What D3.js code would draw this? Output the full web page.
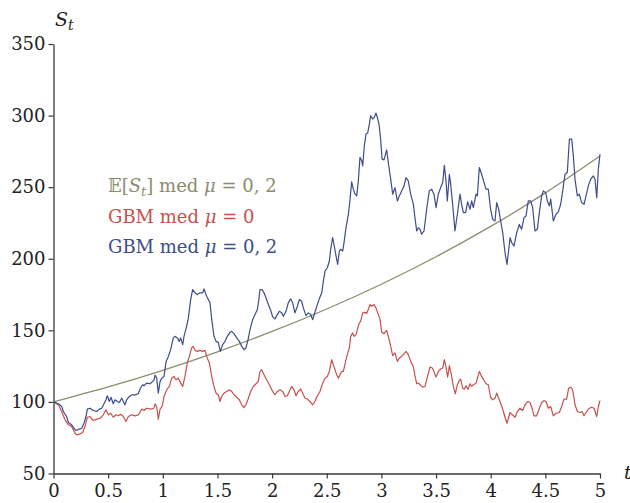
<!DOCTYPE html>
<html>
<head>
<meta charset="utf-8">
<script src="https://cdn.jsdelivr.net/npm/d3@7"></script>
<style>
  html, body { margin: 0; padding: 0; background: #fff; }
  svg { display: block; }
</style>
</head>
<body>
<svg id="chart" width="630" height="503"></svg>
<script>
// Two simulated GBM paths (mu = 0 and mu = 0.2) and the expected value curve.
const xTicks = [0, 0.5, 1, 1.5, 2, 2.5, 3, 3.5, 4, 4.5, 5];
const yTicks = [50, 100, 150, 200, 250, 300, 350];

// Expected value E[S_t] sampled every 0.5 time units
const meanT = [0, 0.5, 1, 1.5, 2, 2.5, 3, 3.5, 4, 4.5, 5];
const meanS = [100, 110.5, 122.1, 135, 149.2, 164.9, 182.2, 201.4, 222.6, 246, 271.8];

// GBM path, mu = 0
const redT = [0, .044, .075, .105, .136, .166, .197, .212, .242, .267, .288, .31, .334, .364, .395, .425, .456, .48, .502, .523, .547, .572, .593, .614, .639, .663, .685, .715, .746, .776, .791, .807, .828, .852, .889, .919, .929, .944, .959, .975, .995,
  1.011, 1.036, 1.06, 1.081, 1.102, 1.121, 1.142, 1.164, 1.182, 1.203, 1.224, 1.243, 1.264, 1.279, 1.295, 1.316, 1.34, 1.365, 1.386, 1.401, 1.426, 1.447, 1.468, 1.487, 1.508, 1.523,
  1.539, 1.56, 1.584, 1.609, 1.63, 1.651, 1.676, 1.7, 1.722, 1.743, 1.761, 1.783, 1.804, 1.828, 1.853, 1.874, 1.889, 1.905, 1.926, 1.95, 1.975,
  2.005, 2.026, 2.048, 2.072, 2.097, 2.118, 2.14, 2.164, 2.179, 2.2, 2.219, 2.24, 2.261, 2.28, 2.301, 2.322, 2.347, 2.371, 2.392, 2.414, 2.438, 2.463, 2.484,
  2.505, 2.524, 2.545, 2.566, 2.585, 2.606, 2.621, 2.637, 2.652, 2.676, 2.688, 2.707, 2.719, 2.737, 2.75, 2.768, 2.78, 2.798, 2.81, 2.829, 2.85, 2.865, 2.88, 2.896, 2.911, 2.932, 2.95, 2.972, 2.987,
  3.003, 3.024, 3.048, 3.063, 3.085, 3.103, 3.124, 3.146, 3.164, 3.185, 3.207, 3.225, 3.246, 3.268, 3.292, 3.307, 3.323, 3.338, 3.353, 3.378, 3.399, 3.42, 3.445, 3.466, 3.481,
  3.5, 3.521, 3.542, 3.561, 3.576, 3.591, 3.606, 3.622, 3.64, 3.658, 3.676, 3.695, 3.713, 3.725, 3.743, 3.759, 3.774, 3.792, 3.811, 3.826, 3.841, 3.866, 3.896, 3.917, 3.939, 3.957, 3.978,
  3.999, 4.018, 4.039, 4.055, 4.073, 4.091, 4.11, 4.131, 4.149, 4.162, 4.177, 4.198, 4.223, 4.244, 4.268, 4.293, 4.314, 4.338, 4.36, 4.378, 4.396, 4.42, 4.445, 4.466, 4.488,
  4.506, 4.527, 4.549, 4.573, 4.597, 4.628, 4.649, 4.671, 4.695, 4.713, 4.732, 4.75, 4.771, 4.793, 4.817, 4.836, 4.854, 4.878, 4.903, 4.924, 4.945, 4.97, 4.985, 5];
const redS = [100, 98, 93.3, 87.5, 84, 82.8, 78.1, 77, 77.7, 78.6, 82.8, 89.3, 89.8, 87, 88, 88.6, 91, 94.5, 91, 92.1, 89.3, 91, 90.3, 91.4, 89.8, 86.3, 89.8, 91, 90.3, 91, 92.6, 95, 94, 95.6, 95, 95.6, 98.7, 96.8, 88, 95, 97,
  103.8, 108.5, 110.8, 116.6, 117.8, 115.5, 116.6, 113.1, 110.8, 117.8, 127.2, 131.8, 137.7, 138.8, 136, 135.3, 136, 135.3, 136, 131.8, 127.2, 117.8, 110.8, 106.1, 105, 100.3,
  103.8, 106.1, 107.3, 108.5, 107.3, 105, 103.3, 101.5, 98, 96.1, 98, 102.6, 107.3, 110.8, 112.7, 114.3, 121.3, 122.5, 119, 115.5, 112,
  107.3, 105, 107.3, 108.5, 107.3, 103.8, 104.3, 108.5, 110.8, 108.5, 104.3, 107.3, 109, 106.1, 102.6, 102, 100.3, 98, 100.3, 104.3, 107.3, 113.1, 116.6,
  117.8, 121.3, 129.5, 124.8, 120.2, 116.6, 119, 121.3, 121.3, 129.5, 133, 137.7, 145.8, 148.2, 145.8, 147, 150.5, 155.2, 156.3, 162.2, 162.6, 161.7, 164.5, 168, 166.8, 168, 165.7, 161, 158,
  148.6, 147.7, 150, 145.8, 138.8, 132.3, 134.2, 128.3, 130.7, 131.8, 133.7, 135.3, 133, 128.3, 124.8, 118.3, 112.7, 113.1, 112, 110.3, 110.8, 117.3, 124.4, 123.7, 121.3,
  117.3, 121.3, 123, 123.7, 129.5, 124.4, 117.3, 125.3, 119, 110.8, 105.7, 112, 115, 115.9, 109.6, 108.9, 111.3, 108.9, 112.7, 110.8, 112, 113.1, 121.3, 117.8, 115, 112.7, 112,
  103.3, 101.5, 102.6, 106.1, 102.6, 99.1, 94.9, 89.3, 85.1, 88.6, 92.6, 91, 89.3, 93.3, 95.6, 94, 98, 100.3, 99.6, 95.6, 90.3, 90.3, 95.6, 99.6, 101,
  100.3, 95.6, 96.8, 90.3, 92.1, 92.6, 96.8, 102, 102, 109.6, 110.3, 108.5, 98, 93.3, 92.6, 93.3, 90.3, 93.3, 95.6, 96.3, 95.6, 89.8, 96.8, 101];

// GBM path, mu = 0.2
const blueT = [0, .044, .075, .09, .12, .136, .166, .187, .206, .236, .258, .279, .297, .31, .334, .364, .395, .419, .441, .462, .48, .492, .511, .526, .547, .563, .584, .602, .624, .654, .669, .694, .715, .746, .776, .791, .816, .828, .852, .883, .907, .919, .929, .944, .959, .974, .99,
  1.011, 1.03, 1.051, 1.072, 1.096, 1.111, 1.133, 1.151, 1.163, 1.182, 1.194, 1.218, 1.234, 1.255, 1.273, 1.295, 1.316, 1.34, 1.365, 1.377, 1.401, 1.432, 1.447, 1.468, 1.487, 1.508, 1.526,
  1.548, 1.569, 1.59, 1.615, 1.63, 1.651, 1.676, 1.7, 1.722, 1.743, 1.761, 1.78, 1.798, 1.822, 1.844, 1.865, 1.877, 1.889, 1.908, 1.926, 1.944, 1.966, 1.987,
  2.005, 2.026, 2.048, 2.066, 2.088, 2.103, 2.127, 2.148, 2.17, 2.188, 2.209, 2.231, 2.249, 2.27, 2.286, 2.31, 2.332, 2.353, 2.371, 2.392, 2.414, 2.432, 2.454, 2.469, 2.484,
  2.505, 2.524, 2.536, 2.554, 2.569, 2.585, 2.6, 2.615, 2.631, 2.646, 2.658, 2.676, 2.698, 2.713, 2.728, 2.743, 2.759, 2.774, 2.789, 2.804, 2.82, 2.829, 2.844, 2.859, 2.874, 2.89, 2.902, 2.92, 2.935, 2.95, 2.963, 2.978, 2.993,
  3.006, 3.024, 3.048, 3.063, 3.085, 3.103, 3.124, 3.146, 3.164, 3.185, 3.207, 3.225, 3.246, 3.268, 3.292, 3.307, 3.323, 3.338, 3.353, 3.368, 3.39, 3.414, 3.438, 3.46, 3.481,
  3.5, 3.521, 3.542, 3.561, 3.576, 3.591, 3.603, 3.622, 3.634, 3.652, 3.673, 3.695, 3.719, 3.734, 3.75, 3.771, 3.789, 3.811, 3.826, 3.841, 3.866, 3.878, 3.896, 3.917, 3.939, 3.957, 3.978,
  3.999, 4.018, 4.039, 4.055, 4.073, 4.091, 4.11, 4.131, 4.149, 4.162, 4.177, 4.192, 4.213, 4.238, 4.262, 4.283, 4.305, 4.323, 4.344, 4.366, 4.384, 4.405, 4.427, 4.445, 4.466, 4.482,
  4.503, 4.518, 4.537, 4.549, 4.573, 4.597, 4.619, 4.64, 4.659, 4.68, 4.701, 4.72, 4.741, 4.756, 4.771, 4.793, 4.811, 4.832, 4.854, 4.872, 4.893, 4.915, 4.939, 4.954, 4.97, 4.985, 5];
const blueS = [100, 98.7, 96.8, 93.3, 89.8, 85.6, 84, 81.6, 80, 81, 81.6, 85.1, 89.8, 95, 95.6, 94, 93.3, 95, 95.6, 98.7, 101.5, 104.3, 100.3, 103.3, 98.7, 101.5, 100.3, 99.6, 102.6, 98, 101.5, 103.8, 104.9, 104.9, 105.7, 109, 112, 111.3, 113.1, 112.7, 114.3, 115.2, 118.7, 116.6, 106.1, 114, 116.6,
  117.8, 128.3, 131.8, 136.5, 144.7, 145.8, 144.7, 142.3, 144.7, 140, 145.8, 152.8, 158.7, 171.5, 178.5, 176.2, 175, 176.2, 176.2, 179, 173.8, 169.2, 158, 146, 142.3, 141.6, 135.3,
  140, 142.3, 145.8, 148.6, 149.3, 147.7, 144.7, 142.3, 138.8, 136.5, 137.7, 143.5, 150.5, 157.5, 161, 164.5, 170.3, 178.5, 178.5, 176.2, 172.7, 168, 164,
  159.4, 158, 161, 163.3, 162.2, 159.8, 163.3, 169.2, 172, 169.2, 162.2, 166.8, 171.5, 170.3, 165.7, 160.3, 162.2, 161, 157.5, 162.6, 168, 172, 176.2, 184.4, 191.4,
  193.7, 198.4, 206.6, 214.7, 208.9, 201.9, 196, 205.4, 206.6, 205.4, 211.2, 221.7, 231.1, 241.6, 253.7, 248.6, 245.1, 243.9, 254.4, 270.8, 268.4, 264.9, 278.9, 287.1, 287.8, 294.1, 299.9, 297.6, 298.8, 301.8, 298.8, 294.1, 283.6,
  269.6, 269.1, 276.1, 267.2, 255.6, 245.1, 249.7, 240.4, 243.9, 247.4, 250.9, 256.7, 254.4, 245.1, 238.1, 228.7, 219.4, 221.7, 220.6, 217.1, 219.4, 234.6, 247.4, 248.6, 245.1,
  235.7, 245.1, 249.7, 253.2, 265.3, 254.4, 240.4, 259, 252.1, 238, 219.4, 231.1, 245.1, 238, 232.2, 232.2, 239.7, 234.6, 240.4, 235.7, 245.1, 243.9, 263.7, 259, 253.2, 248.6, 248.6,
  234.6, 227.5, 226.4, 239.2, 234.6, 226.4, 218.2, 204.2, 196, 204.2, 214.7, 211.2, 208.9, 218.2, 224, 220.6, 228.7, 229.9, 240.4, 240.4, 235.7, 219.4, 220.6, 232.2, 243.9, 247.4,
  246.2, 240.4, 236.9, 241.6, 226.4, 231.1, 232.7, 238, 247.4, 259, 260.2, 283.6, 283.6, 271.9, 255.6, 243.9, 245.1, 239.2, 238, 243.9, 250.9, 255.6, 257.9, 255.6, 242.7, 262.6, 273.1];

const colors = { mean: "#8c8c6e", red: "#c8504b", blue: "#3e4c8c", axis: "#3a3a3a" };
const serif = "'DejaVu Serif', serif";

const svg = d3.select("#chart");
const x = d3.scaleLinear().domain([0, 5]).range([53.5, 600]);
const y = d3.scaleLinear().domain([50, 350]).range([473.5, 44]);

// Axes
const xAxis = svg.append("g")
  .attr("transform", `translate(0,${y(50)})`)
  .call(d3.axisBottom(x).tickValues(xTicks).tickFormat(d => String(d)).tickSize(5).tickSizeOuter(0).tickPadding(6));
const yAxis = svg.append("g")
  .attr("transform", `translate(${x(0)},0)`)
  .call(d3.axisLeft(y).tickValues(yTicks).tickFormat(d => String(d)).tickSize(5).tickSizeOuter(0).tickPadding(3));

[xAxis, yAxis].forEach(g => {
  g.attr("font-family", serif).attr("font-size", 18);
  g.select(".domain").attr("stroke", colors.axis).attr("stroke-width", 1.3);
  g.selectAll(".tick line").attr("stroke", colors.axis).attr("stroke-width", 1.2);
  g.selectAll(".tick text").attr("fill", "#222");
});

// Axis titles
const st = svg.append("text").attr("x", 55).attr("y", 26).attr("fill", "#222")
  .attr("font-family", serif).attr("font-size", 19);
st.append("tspan").text("S").attr("font-style", "italic");
st.append("tspan").text("t").attr("font-style", "italic").attr("font-size", 14).attr("dy", 4);

svg.append("text").attr("x", 624).attr("y", 479).attr("fill", "#222")
  .attr("font-family", serif).attr("font-size", 19).attr("font-style", "italic").text("t");

// Curves
const line = d3.line().x(d => x(d[0])).y(d => y(d[1]));
const meanLine = d3.line().x(d => x(d[0])).y(d => y(d[1])).curve(d3.curveNatural);

svg.append("path")
  .datum(d3.zip(meanT, meanS))
  .attr("d", meanLine)
  .attr("fill", "none").attr("stroke", colors.mean).attr("stroke-width", 1.3);

svg.append("path")
  .datum(d3.zip(redT, redS))
  .attr("d", line)
  .attr("fill", "none").attr("stroke", colors.red).attr("stroke-width", 1.2).attr("stroke-linejoin", "round");

svg.append("path")
  .datum(d3.zip(blueT, blueS))
  .attr("d", line)
  .attr("fill", "none").attr("stroke", colors.blue).attr("stroke-width", 1.2).attr("stroke-linejoin", "round");

// Legend
const legend = svg.append("g").attr("font-family", serif).attr("font-size", 18);

const l1 = legend.append("text").attr("x", 108).attr("y", 192).attr("fill", colors.mean);
l1.append("tspan").text("𝔼[");
l1.append("tspan").text("S").attr("font-style", "italic");
l1.append("tspan").text("t").attr("font-style", "italic").attr("font-size", 13).attr("dy", 4);
l1.append("tspan").text("] med ").attr("dy", -4);
l1.append("tspan").text("μ").attr("font-style", "italic");
l1.append("tspan").text(" = 0, 2");

const l2 = legend.append("text").attr("x", 108).attr("y", 223).attr("fill", colors.red);
l2.append("tspan").text("GBM med ");
l2.append("tspan").text("μ").attr("font-style", "italic");
l2.append("tspan").text(" = 0");

const l3 = legend.append("text").attr("x", 108).attr("y", 253).attr("fill", colors.blue);
l3.append("tspan").text("GBM med ");
l3.append("tspan").text("μ").attr("font-style", "italic");
l3.append("tspan").text(" = 0, 2");
</script>
</body>
</html>
